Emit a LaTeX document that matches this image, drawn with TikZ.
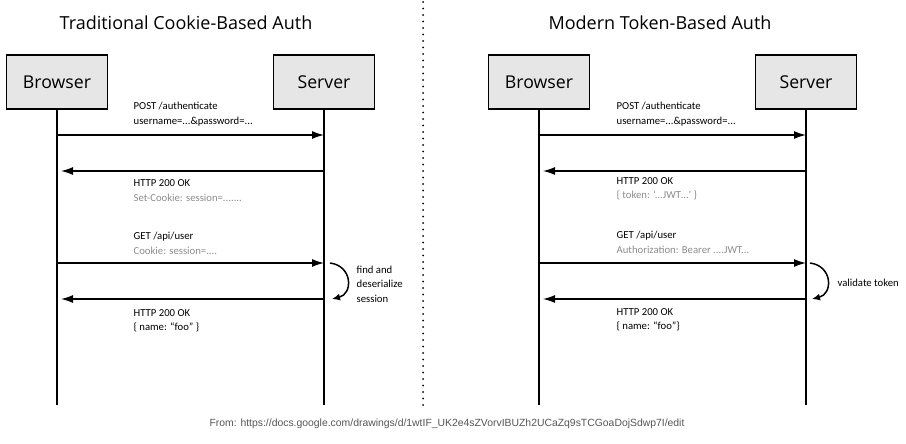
\documentclass[tikz,border=0pt]{standalone}
\usepackage{fontspec}
\setmainfont{Carlito}
\newfontfamily\headfont{Open Sans}
\newfontfamily\footfont{Liberation Sans}
\usepackage{tikz}
\usetikzlibrary{arrows.meta,calc,positioning}
\definecolor{boxgray}{HTML}{E6E6E6}
\definecolor{notegray}{HTML}{8C8C8C}
\definecolor{footgray}{HTML}{555555}

\begin{document}
\begin{tikzpicture}[x=1pt,y=-1pt,line width=1.3pt,>={Latex[length=12pt,width=8pt]}]
    \tikzstyle{actor}=[rectangle, draw, fill=boxgray, line width=1.3pt, minimum width=101pt, minimum height=54pt, font=\headfont\fontsize{17.7}{18}\selectfont]
    \tikzstyle{heading}=[font=\headfont\fontsize{18}{18}\selectfont]
    \tikzstyle{msg}=[anchor=west, align=left, inner sep=0pt, font=\fontsize{10.7}{14.5}\selectfont]
    \tikzstyle{call}=[->]
    \tikzstyle{reply}=[->, shorten >=4pt]
    \tikzstyle{selfcall}=[-{Latex[length=8pt,width=7pt]}, line width=1.5pt]

    \useasboundingbox (0,0) rectangle (906,444);

    % cookie based
    \node[heading] (h1) at (186,23) {Traditional Cookie-Based Auth};
    \node[actor]   (b1) at (57,82)  {Browser};
    \node[actor]   (s1) at (324,82) {Server};

    % token based
    \node[heading] (h2) at (660,23) {Modern Token-Based Auth};
    \node[actor]   (b2) at (539,82) {Browser};
    \node[actor]   (s2) at (806,82) {Server};

    % lifelines and message points
    \foreach \n in {b1,s1,b2,s2} {
        \coordinate (\n end) at (\n |- {(0,405)});
        \draw (\n.south) -- (\n end);
        \foreach \i/\y in {1/135,2/171,3/263,4/299}
            \coordinate (\n m\i) at (\n |- {(0,\y)});
    }

    % divider
    \coordinate (dtop) at (423,2);
    \coordinate (dbot) at (423,408);
    \draw[line width=2pt, line cap=round, dash pattern=on 0pt off 6.5pt] (dtop) -- (dbot);

    \draw[call]  (b1m1) -- (s1m1);
    \draw[reply] (s1m2) -- (b1m2);
    \draw[call]  (b1m3) -- (s1m3);
    \draw[reply] (s1m4) -- (b1m4);

    \draw[call]  (b2m1) -- (s2m1);
    \draw[reply] (s2m2) -- (b2m2);
    \draw[call]  (b2m3) -- (s2m3);
    \draw[reply] (s2m4) -- (b2m4);

    \draw[selfcall] ($(s1m3)+(6,0)$) .. controls ($(s1m3)+(29,3)$) and ($(s1m4)+(29,-5)$) .. ($(s1m4)+(8,0)$);
    \draw[selfcall] ($(s2m3)+(4,0)$) .. controls ($(s2m3)+(27,3)$) and ($(s2m4)+(27,-5)$) .. ($(s2m4)+(6,0)$);

    \node[msg] (p1) at (133,114) {POST /authenticate\\username=...\&password=...};
    \node[msg] (r1) at (133,190.5) {HTTP 200 OK\\\textcolor{notegray}{Set-Cookie: session=.......}};
    \node[msg] (g1) at (133,243.5) {GET /api/user\\\textcolor{notegray}{Cookie: session=....}};
    \node[msg] (u1) at (133,321) {HTTP 200 OK\\\{\ name: “foo” \}};
    \node[msg] (n1) at (356,284) {find and\\deserialize\\session};

    \node[msg] (p2) at (616,114) {POST /authenticate\\username=...\&password=...};
    \node[msg] (r2) at (616,189) {HTTP 200 OK\\\textcolor{notegray}{\{ token: ‘...JWT…’ \}}};
    \node[msg] (g2) at (616,242.5) {GET /api/user\\\textcolor{notegray}{Authorization: Bearer ....JWT...}};
    \node[msg] (u2) at (616,320) {HTTP 200 OK\\\{ name: “foo”\}};
    \node[msg] (n2) at (837,283) {validate token};

    \node[font=\footfont\fontsize{10.4}{10.4}\selectfont, text=footgray] (src) at (447,424) {From: https://docs.google.com/drawings/d/1wtIF\_UK2e4sZVorvIBUZh2UCaZq9sTCGoaDojSdwp7I/edit};

\end{tikzpicture}
\end{document}
